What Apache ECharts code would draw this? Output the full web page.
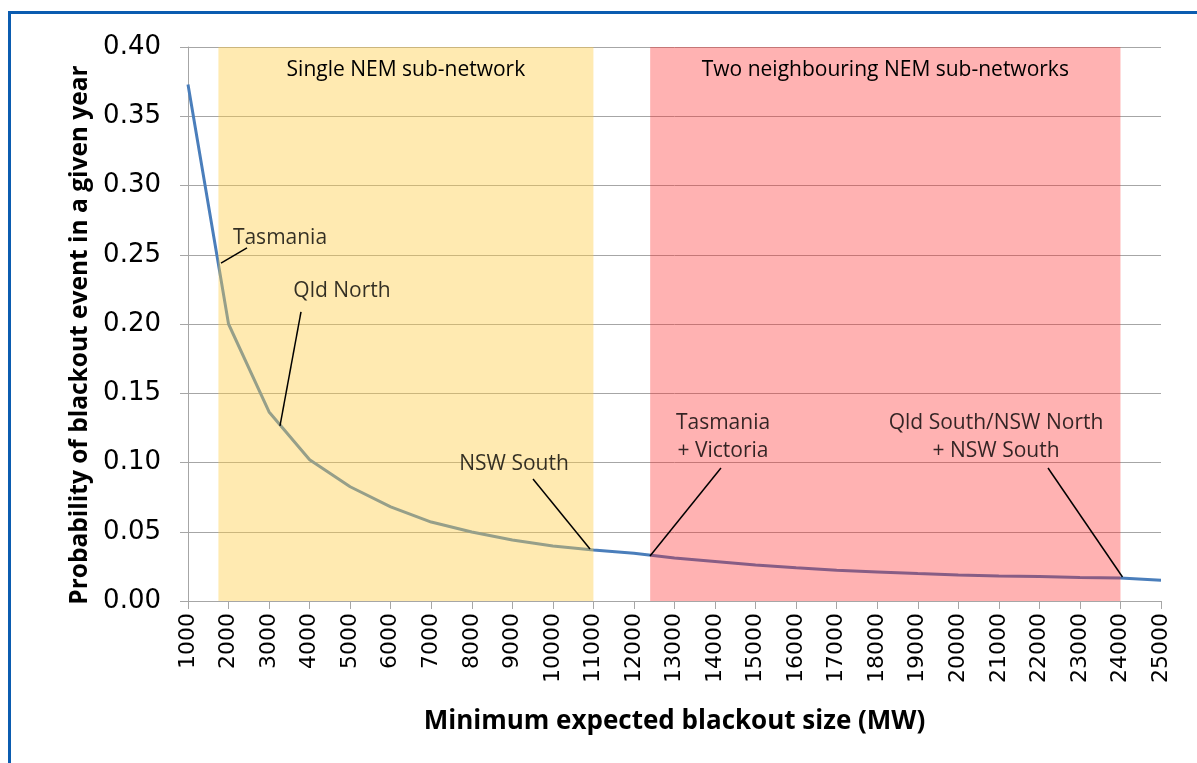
<!DOCTYPE html>
<html>
<head>
<meta charset="utf-8">
<script src="https://cdn.jsdelivr.net/npm/echarts@6/dist/echarts.min.js"></script>
<style>
html,body{margin:0;padding:0;background:#fff;}
#chart{width:1197px;height:763px;}
</style>
</head>
<body>
<div id="chart"></div>
<script>
// ---- data ----
const blackoutSizeMW = [1000,2000,3000,4000,5000,6000,7000,8000,9000,10000,11000,12000,13000,14000,15000,16000,17000,18000,19000,20000,21000,22000,23000,24000,25000];
const probability = [0.373,0.200,0.1365,0.102,0.0825,0.068,0.057,0.0498,0.044,0.0397,0.0368,0.0345,0.031,0.0285,0.026,0.024,0.0222,0.021,0.0198,0.0188,0.018,0.0176,0.0170,0.0166,0.0150];
const yTicks = [0,0.05,0.10,0.15,0.20,0.25,0.30,0.35,0.40];

const regionNames = ['Single NEM sub-network','Two neighbouring NEM sub-networks'];
const regionStart = [1750,12400];
const regionEnd = [11000,24000];

const annotationText = ['Tasmania','Qld North','NSW South','Tasmania\n+ Victoria','Qld South/NSW North\n+ NSW South'];
const annotationX = [3269,4799,9041,14197,20931];
const annotationY = [0.2621,0.2238,0.0989,0.1184,0.1184];
const leaderFromX = [1814,3269,9510,14146,22213];
const leaderFromY = [0.2440,0.1264,0.0881,0.0960,0.0960];
const leaderToX = [2455,3787,10916,12396,24050];
const leaderToY = [0.2549,0.2087,0.0375,0.0325,0.0173];

const xTitle = 'Minimum expected blackout size (MW)';
const yTitle = 'Probability of blackout event in a given year';

// ---- styles ----
const regionFill = ['rgba(255,205,70,0.42)','rgba(255,30,30,0.34)'];
const gridColor = '#A6A6A6';
const lineColor = '#4A7EBB';

const chart = echarts.init(document.getElementById('chart'));

const areaData = regionNames.map((n,i)=>[
  {name:n, xAxis:regionStart[i], yAxis:yTicks[yTicks.length-1], itemStyle:{color:regionFill[i]}},
  {xAxis:regionEnd[i], yAxis:yTicks[0]}
]);
const leaderData = annotationText.map((t,i)=>[
  {coord:[leaderFromX[i],leaderFromY[i]]},
  {coord:[leaderToX[i],leaderToY[i]]}
]);
const annData = annotationText.map((t,i)=>({name:t, value:[annotationX[i],annotationY[i]]}));

chart.setOption({
  animation:false,
  backgroundColor:'#ffffff',
  graphic:[{
    type:'rect', z:100,
    shape:{x:9.5,y:12.5,width:1400,height:1000},
    style:{fill:'none',stroke:'#0B5CB0',lineWidth:3}
  }],
  grid:{left:188,right:36,top:47,bottom:162},
  xAxis:{
    type:'value', min:1000, max:25000, interval:1000,
    name:xTitle, nameLocation:'middle', nameGap:108,
    nameTextStyle:{fontFamily:'Open Sans',fontWeight:'bold',fontSize:26,color:'#000'},
    axisLine:{show:true,lineStyle:{color:gridColor,width:1}},
    axisTick:{show:true,length:8,lineStyle:{color:gridColor}},
    axisLabel:{rotate:90,margin:12,fontFamily:'DejaVu Sans',fontSize:22,color:'#000',formatter:v=>String(v)},
    splitLine:{show:false}
  },
  yAxis:{
    type:'value', min:0, max:0.4, interval:0.05,
    name:yTitle, nameLocation:'middle', nameGap:88, nameRotate:90,
    nameTextStyle:{fontFamily:'Open Sans',fontWeight:'bold',fontSize:24.5,color:'#000',padding:[0,22,0,0]},
    axisLine:{show:true,lineStyle:{color:gridColor,width:1}},
    axisTick:{show:true,length:8,lineStyle:{color:gridColor}},
    axisLabel:{margin:27,fontFamily:'DejaVu Sans',fontSize:26,color:'#000',formatter:v=>v.toFixed(2)},
    splitLine:{show:true,lineStyle:{color:gridColor,width:1}}
  },
  series:[
    {
      type:'line', z:2,
      data:blackoutSizeMW.map((x,i)=>[x,probability[i]]),
      symbol:'none',
      lineStyle:{color:lineColor,width:3},
      markArea:{
        z:3, silent:true,
        label:{show:true,position:'insideTop',distance:13,fontFamily:'Open Sans',fontSize:21,color:'#000'},
        data:areaData
      }
    },
    {
      type:'scatter', z:20,
      data:annData,
      symbolSize:1,
      itemStyle:{color:'rgba(0,0,0,0)'},
      label:{show:true,position:'inside',formatter:'{b}',fontFamily:'Open Sans',fontSize:21,lineHeight:28,color:'#000',align:'center'},
      markLine:{
        z:20, silent:true, symbol:['none','none'],
        label:{show:false},
        lineStyle:{color:'#000',width:1.5,type:'solid'},
        data:leaderData
      }
    }
  ]
});
</script>
</body>
</html>
